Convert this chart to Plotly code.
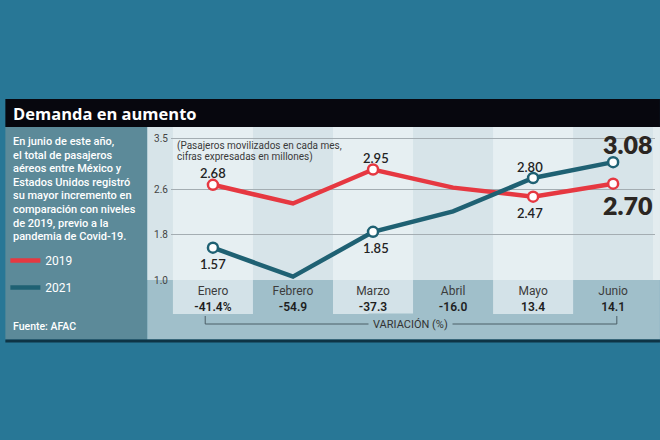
import plotly.graph_objects as go

# ---------------- data ----------------
months = ["Enero", "Febrero", "Marzo", "Abril", "Mayo", "Junio"]
pax_2019 = [2.68, 2.35, 2.95, 2.63, 2.47, 2.70]
pax_2021 = [1.57, 1.06, 1.85, 2.21, 2.80, 3.08]
variation = ["-41.4%", "-54.9", "-37.3", "-16.0", "13.4", "14.1"]
labeled_idx = [0, 2, 4, 5]
ytick_vals = [1.0, 1.8, 2.6, 3.5]
ytick_text = ["1.0", "1.8", "2.6", "3.5"]
series_names = ["2019", "2021"]
title_text = "Demanda en aumento"
intro_lines = [
    "En junio de este año,",
    "el total de pasajeros",
    "aéreos entre México y",
    "Estados Unidos registró",
    "su mayor incremento en",
    "comparación con niveles",
    "de 2019, previo a la",
    "pandemia de Covid-19.",
]
note_lines = ["(Pasajeros movilizados en cada mes,", "cifras expresadas en millones)"]
source_text = "Fuente: AFAC"
bracket_text = "VARIACIÓN (%)"

# ---------------- style ----------------
W, H = 660, 440
L, R, T, B = 167, 655, 127, 280
RED = "#e63841"
TEAL = "#1f6173"
FONT = "Roboto"


def px(x):
    return (x - L) / (R - L)


def py(y):
    return (B - y) / (B - T)


fig = go.Figure()

series = [(pax_2019, pax_2021, RED), (pax_2021, pax_2019, TEAL)]
for name, (vals, other, col) in zip(series_names, series):
    fig.add_trace(go.Scatter(
        x=months, y=vals, mode="lines", name=name, legendgroup=name,
        line=dict(color=col, width=4.5), hoverinfo="skip"))
    fig.add_trace(go.Scatter(
        x=[months[i] for i in labeled_idx], y=[vals[i] for i in labeled_idx],
        mode="markers", showlegend=False, legendgroup=name,
        marker=dict(symbol="circle", size=10, color="white",
                    line=dict(color=col, width=2.5)),
        hoverinfo="skip", cliponaxis=False))

shapes = []


def rect(x0, x1, y0, y1, color, xref="paper"):
    shapes.append(dict(type="rect", xref=xref, yref="paper", x0=x0, x1=x1,
                       y0=y0, y1=y1, fillcolor=color, line=dict(width=0),
                       layer="below"))


# black title band
rect(px(0), px(W), py(127), py(99), "#07070e")
# left panel
rect(px(0), px(143), py(339.5), py(127), "#5c8a99")
# right panel upper & lower
rect(px(143), px(W), py(280), py(127), "#d7e4e9")
rect(px(143), px(W), py(339.5), py(280), "#a0bfca")
# bottom dark line
rect(px(0), px(W), py(342.5), py(339.5), "#0e3445")
# alternating columns
for i in range(0, len(months), 2):
    rect(i - 0.5, i + 0.5, py(280), py(127), "#e6eff2", xref="x")
    rect(i - 0.5, i + 0.5, py(314), py(280), "#d3e2e8", xref="x")
# thin light strip at right edge
rect(px(653), px(W), py(280), py(127), "#e3ecef")

# variation bracket
bx0, bx1, by0, by1 = px(201.5), px(616.5), py(324), py(316)
shapes.append(dict(type="path", xref="paper", yref="paper",
                   path=f"M{bx0},{by1} L{bx0},{by0} L{bx1},{by0} L{bx1},{by1}",
                   line=dict(color="#4b5e66", width=1), layer="above"))

annotations = []
# title
annotations.append(dict(text=f"<b>{title_text}</b>", xref="paper", yref="paper",
                        x=px(6), y=py(113), xanchor="left", yanchor="middle",
                        showarrow=False,
                        font=dict(family="Open Sans", size=16.5, color="white")))
# intro text, one line per annotation for exact leading
for k, line in enumerate(intro_lines):
    annotations.append(dict(text=line, xref="paper", yref="paper",
                            x=px(6), y=py(141.5 + 13.6 * k),
                            xanchor="left", yanchor="middle", showarrow=False,
                            font=dict(family=FONT, size=11, color="white",
                                      weight=500)))
# source
annotations.append(dict(text=source_text, xref="paper", yref="paper",
                        x=px(6), y=py(326), xanchor="left", yanchor="middle",
                        showarrow=False,
                        font=dict(family=FONT, size=10.5, color="white",
                                  weight=500)))
# note (two lines)
for k, line in enumerate(note_lines):
    annotations.append(dict(text=line, xref="paper", yref="paper",
                            x=px(171), y=py(146 + 11 * k),
                            xanchor="left", yanchor="middle", showarrow=False,
                            font=dict(family=FONT, size=10, color="#3a3a3a")))
# bracket label
annotations.append(dict(text=bracket_text, xref="paper", yref="paper",
                        x=px(408), y=py(324), xanchor="center", yanchor="middle",
                        showarrow=False, bgcolor="#a0bfca", borderpad=4,
                        font=dict(family=FONT, size=11, color="#333333")))

# data labels
xshift_map = {0: 0, 2: 3, 4: -3, 5: 14}
for vals, other, col in series:
    for i in labeled_idx:
        above = vals[i] > other[i]
        last = i == len(months) - 1
        if last:
            fnt = dict(family="Lato", size=25, color="#2b2622", weight=800)
            ys = 18 if above else -21
        else:
            fnt = dict(family="Lato", size=13, color="#222222", weight=600)
            ys = 11.5 if above else -16
        annotations.append(dict(text=f"{vals[i]:.2f}", x=months[i], y=vals[i],
                                xref="x", yref="y", showarrow=False,
                                xshift=xshift_map[i], yshift=ys, font=fnt))

ticktext = [f"{m}<br><span style='font-weight:600;color:#1e1e1e'>{v}</span>"
            for m, v in zip(months, variation)]

fig.update_layout(
    width=W, height=H,
    margin=dict(l=L, r=W - R, t=T, b=H - B, pad=0),
    paper_bgcolor="#287796",
    plot_bgcolor="rgba(0,0,0,0)",
    shapes=shapes,
    annotations=annotations,
    showlegend=True,
    legend=dict(x=px(0), y=py(274), xanchor="left", yanchor="middle",
                bgcolor="rgba(0,0,0,0)", traceorder="grouped",
                tracegroupgap=8,
                font=dict(family=FONT, size=12, color="white")),
    xaxis=dict(type="category", range=[-0.524, 5.523], showgrid=False,
               zeroline=False, showline=False, ticks="",
               tickvals=months, ticktext=ticktext,
               tickfont=dict(family=FONT, size=12, color="#3c3c3c"),
               ticklabelstandoff=2),
    yaxis=dict(range=[1.0, 3.70], tickvals=ytick_vals, ticktext=ytick_text,
               showgrid=True, gridcolor="#a4adb2", gridwidth=1,
               zeroline=False, showline=False, ticks="",
               tickfont=dict(family=FONT, size=10, color="#444444"),
               ticklabelstandoff=2),
)

fig.write_html("out.html")
